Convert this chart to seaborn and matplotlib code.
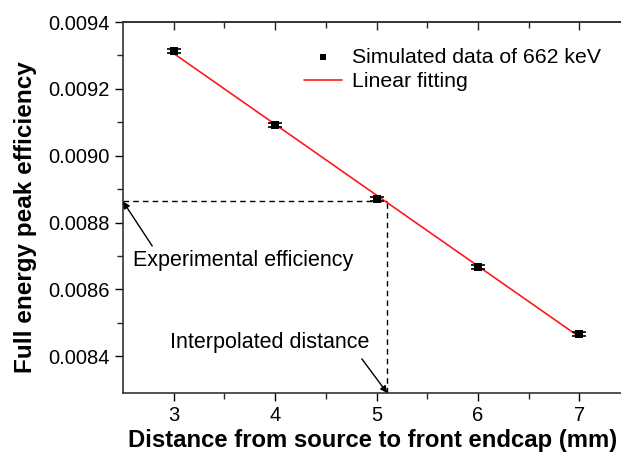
import numpy as np
import pandas as pd
import matplotlib
matplotlib.use("Agg")
import matplotlib.pyplot as plt
import seaborn as sns

# Data
distance = [3, 4, 5, 6, 7]
efficiency = [0.009314, 0.009091, 0.008871, 0.008667, 0.008466]
eff_err = [0.000006, 0.000006, 0.000006, 0.000006, 0.000006]
exp_efficiency = 0.008863
interp_distance = 5.105
xticks = [3, 4, 5, 6, 7]
yticks = [0.0084, 0.0086, 0.0088, 0.0090, 0.0092, 0.0094]

sns.set_style("ticks")
plt.rcParams['font.family'] = ['Liberation Sans', 'DejaVu Sans']
plt.rcParams['text.color'] = 'black'
plt.rcParams['axes.labelcolor'] = 'black'

fig = plt.figure(figsize=(6.21, 4.61), dpi=100)
ax = fig.add_axes([123/621, 1-393/461, 500/621, 371/461])

df = pd.DataFrame({"x": distance, "y": efficiency})
coef = np.polyfit(distance, efficiency, 1)
fit_x = np.array([distance[0], distance[-1]])
fit_df = pd.DataFrame({"x": fit_x, "y": np.polyval(coef, fit_x)})

ax.errorbar(distance, efficiency, yerr=eff_err, fmt='none', ecolor='black',
            elinewidth=1.2, capsize=5, capthick=1.2, zorder=3)
sns.scatterplot(data=df, x="x", y="y", marker='s', color='black', s=30,
                edgecolor='black', linewidth=0, ax=ax, zorder=4,
                label="Simulated data of 662 keV")
sns.lineplot(data=fit_df, x="x", y="y", color='#ff1a1a', linewidth=1.2, ax=ax,
             zorder=2, label="Linear fitting")

ax.set_xlim(2.5, 7.43)
ax.set_ylim(0.00829, 0.0094)

# dashed guide lines
ax.plot([2.5, interp_distance], [exp_efficiency, exp_efficiency], color='black',
        linestyle=(0, (4, 3)), linewidth=1.0, zorder=1)
ax.plot([interp_distance, interp_distance], [0.00829, exp_efficiency], color='black',
        linestyle=(0, (4, 3)), linewidth=1.0, zorder=1)

ax.set_xticks(xticks)
ax.set_xticks([3.5, 4.5, 5.5, 6.5], minor=True)
ax.set_yticks(yticks)
ax.set_yticks([0.0085, 0.0087, 0.0089, 0.0091, 0.0093], minor=True)
ax.set_yticklabels([f"{v:.4f}" for v in yticks])
ax.tick_params(axis='both', which='major', direction='out', length=6, width=1,
               labelsize=14.5, colors='black')
ax.tick_params(axis='both', which='minor', direction='out', length=4, width=1)

sec = ax.secondary_xaxis('top')
sec.set_xticks(xticks)
sec.set_xticks([3.5, 4.5, 5.5, 6.5], minor=True)
sec.tick_params(which='major', direction='in', length=6, width=1, labeltop=False)
sec.tick_params(which='minor', direction='in', length=4, width=1)

for s in ['left', 'bottom', 'top', 'right']:
    ax.spines[s].set_visible(True)
    ax.spines[s].set_color('#333333')
    ax.spines[s].set_linewidth(1.2)
sec.spines['top'].set_color('#333333')
sec.spines['top'].set_linewidth(1.2)

ax.set_xlabel("Distance from source to front endcap (mm)", fontsize=17.2,
              fontweight='bold', labelpad=3)
ax.set_ylabel("Full energy peak efficiency", fontsize=17.5, fontweight='bold')
ax.yaxis.set_label_coords(-0.172, 0.474)

ax.annotate("Experimental efficiency", xy=(2.5, exp_efficiency),
            xytext=(2.6, 0.008685), fontsize=15.5, va='center', ha='left',
            arrowprops=dict(arrowstyle='-|>', color='black', lw=1.0,
                            shrinkA=1, shrinkB=0, mutation_scale=10,
                            relpos=(0.1, 1.0)))
ax.annotate("Interpolated distance", xy=(interp_distance, 0.00829),
            xytext=(3.95, 0.00844), fontsize=15.5, va='center', ha='center',
            arrowprops=dict(arrowstyle='-|>', color='black', lw=1.0,
                            shrinkA=2, shrinkB=0, mutation_scale=10,
                            relpos=(0.94, 0.0)))

leg = ax.legend(loc='upper right', bbox_to_anchor=(0.995, 0.982), frameon=False,
                fontsize=15.3, handlelength=1.8, handletextpad=0.5,
                labelspacing=0.25, markerscale=0.8)

fig.savefig("out.png", dpi=100)
